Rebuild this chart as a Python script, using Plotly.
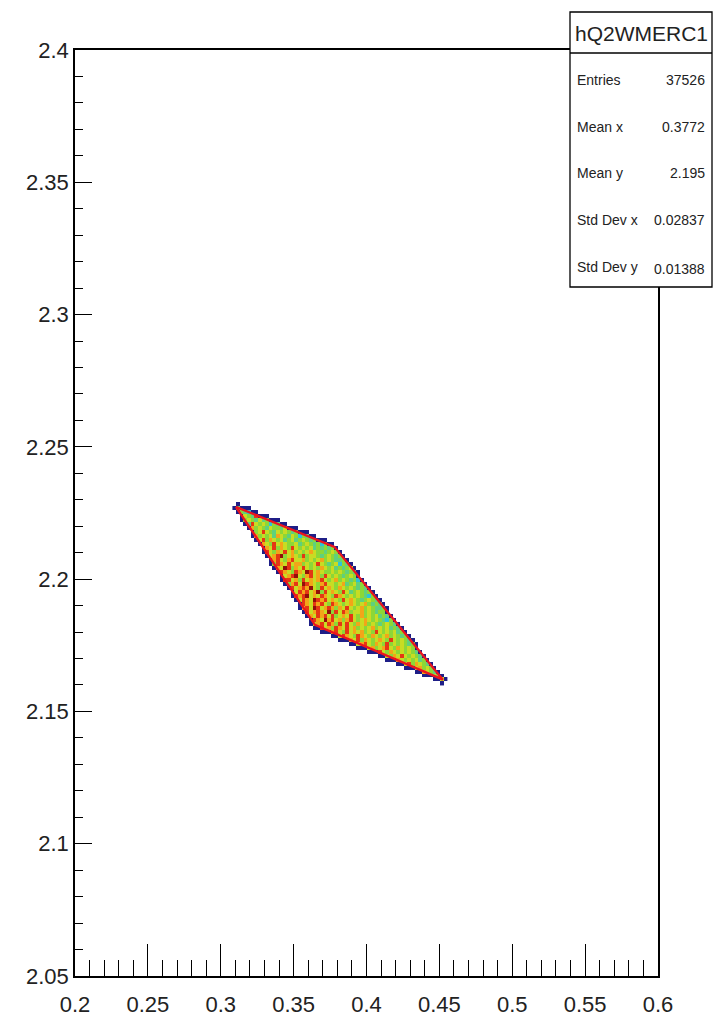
import numpy as np
import plotly.graph_objects as go

# ---------------- data ----------------
# histogram binning of the drawn patch (bin edges)
x_edge0, x_step, n_cols = 0.308, 0.0025, 59
y_edge0, y_step, n_rows = 2.1600, 0.0015, 47

# outline of the filled region (kinematic boundary)
outline_x = [0.3104, 0.3780, 0.4524, 0.3646, 0.3104]
outline_y = [2.2273, 2.2122, 2.1620, 2.1827, 2.2273]

# estimated colour level per bin (1 = dark blue ... 9 = dark red),
# rows counted from the top; each entry: (first column, levels)
level_rows = {
    2: (1, "4"),
    3: (2, "543"),
    4: (3, "6548"),
    5: (3, "5654645"),
    6: (4, "486565354"),
    7: (5, "7565465546"),
    8: (6, "568654656545"),
    9: (6, "756564765465354"),
    10: (7, "6857656456456545"),
    11: (8, "765867655645654535"),
    12: (8, "57685765865656454545"),
    13: (9, "86576867565676554565"),
    14: (10, "67895676585665456545"),
    15: (11, "78657866756567565445"),
    16: (11, "587686775656865456354"),
    17: (12, "769857686565765645456"),
    18: (13, "876587698676556565454"),
    19: (14, "67896578675865654565"),
    20: (14, "886758676786567565453"),
    21: (15, "578698765786656745645"),
    22: (16, "867879658676576565454"),
    23: (16, "7687867958676586456545"),
    24: (17, "8789676876587656565435"),
    25: (18, "6876987867658676545654"),
    26: (19, "8768786587656765675454"),
    27: (19, "78698678757686567565445"),
    28: (20, "86787695868756675654556"),
    29: (21, "7687868567686575656454"),
    30: (22, "8769786757865676565435"),
    31: (22, "67868758686576756545654"),
    32: (24, "8675876867565675656454"),
    33: (27, "78658676756586565645"),
    34: (29, "6876587657656756545"),
    35: (32, "76857656765865654"),
    36: (34, "6786576585656545"),
    37: (37, "67567865765654"),
    38: (39, "786576565654"),
    39: (42, "6576865654"),
    40: (45, "76565645"),
    41: (47, "6857654"),
    42: (50, "67565"),
    43: (52, "7654"),
    44: (55, "65"),
    45: (57, "6"),
}

x_tick_vals = [0.2, 0.25, 0.3, 0.35, 0.4, 0.45, 0.5, 0.55, 0.6]
x_tick_text = ["0.2", "0.25", "0.3", "0.35", "0.4", "0.45", "0.5", "0.55", "0.6"]
y_tick_vals = [2.05, 2.1, 2.15, 2.2, 2.25, 2.3, 2.35, 2.4]
y_tick_text = ["2.05", "2.1", "2.15", "2.2", "2.25", "2.3", "2.35", "2.4"]

hist_name = "hQ2WMERC1"
stat_labels = ["Entries", "Mean x", "Mean y", "Std Dev x", "Std Dev y"]
stat_values = ["37526", "0.3772", "2.195", "0.02837", "0.01388"]

# ---------------- build the binned matrix ----------------
xc = x_edge0 + x_step * (np.arange(n_cols) + 0.5)
yc_top = y_edge0 + y_step * (n_rows - np.arange(n_rows) - 0.5)  # row 0 = top


def inside(px, py, vx, vy):
    res = False
    for k in range(len(vx) - 1):
        x1, y1, x2, y2 = vx[k], vy[k], vx[k + 1], vy[k + 1]
        if (y1 > py) != (y2 > py):
            xi = x1 + (py - y1) * (x2 - x1) / (y2 - y1)
            if px < xi:
                res = not res
    return res


mask = np.zeros((n_rows, n_cols), dtype=bool)
for r in range(n_rows):
    for c in range(n_cols):
        mask[r, c] = inside(xc[c], yc_top[r], outline_x, outline_y)

z_top = np.full((n_rows, n_cols), np.nan)
keys = sorted(level_rows.keys())
for r in range(n_rows):
    for c in range(n_cols):
        if mask[r, c]:
            near = min(keys, key=lambda k: abs(k - r))
            start, s = level_rows[near]
            idx = min(max(c - start, 0), len(s) - 1)
            z_top[r, c] = int(s[idx])
        else:
            nb = False
            for dr, dc in ((1, 0), (-1, 0), (0, 1), (0, -1)):
                rr, cc = r + dr, c + dc
                if 0 <= rr < n_rows and 0 <= cc < n_cols and mask[rr, cc]:
                    nb = True
            if nb:
                z_top[r, c] = 1

z = z_top[::-1]
yc = yc_top[::-1]

levels_colors = [
    (30, 30, 135), (45, 80, 210), (45, 195, 215), (95, 208, 125),
    (140, 215, 55), (200, 220, 35), (242, 165, 25), (228, 55, 20), (145, 15, 10),
]
cs = []
nlev = len(levels_colors)
for k, col in enumerate(levels_colors):
    c = "rgb(%d,%d,%d)" % col
    cs.append([k / nlev, c])
    cs.append([(k + 1) / nlev, c])

fig = go.Figure()
fig.add_trace(go.Heatmap(
    x=xc, y=yc, z=z, zmin=0.5, zmax=9.5, colorscale=cs, showscale=False,
    hoverongaps=False,
))
fig.add_trace(go.Scatter(
    x=outline_x, y=outline_y, mode="lines",
    line=dict(color="rgb(235,20,30)", width=2.3), showlegend=False,
))

FONT = "Liberation Sans, Arial, Helvetica, sans-serif"
L, R, T, B = 75, 658, 50, 976
W, H = 715, 1020


def pxx(p):
    return (p - L) / (R - L)


def pxy(p):
    return (B - p) / (B - T)


fig.update_layout(
    width=W, height=H, autosize=False,
    margin=dict(l=L, r=W - R, t=T, b=H - B, pad=0),
    paper_bgcolor="white", plot_bgcolor="white",
    showlegend=False,
    font=dict(family=FONT, color="#222"),
    xaxis=dict(
        range=[0.2, 0.6], tickmode="array", tickvals=x_tick_vals, ticktext=x_tick_text,
        ticks="inside", ticklen=32, tickwidth=1.2, tickcolor="black",
        minor=dict(ticks="inside", dtick=0.01, tick0=0.2, ticklen=16,
                   tickwidth=1.2, tickcolor="black"),
        showline=True, linecolor="black", linewidth=1.5, mirror=True,
        showgrid=False, zeroline=False, ticklabelstandoff=8, automargin=False,
        tickfont=dict(size=22, family=FONT, color="#222"),
    ),
    yaxis=dict(
        range=[2.05, 2.4], tickmode="array", tickvals=y_tick_vals, ticktext=y_tick_text,
        ticks="inside", ticklen=17, tickwidth=1.2, tickcolor="black",
        minor=dict(ticks="inside", dtick=0.01, tick0=2.05, ticklen=8,
                   tickwidth=1.2, tickcolor="black"),
        showline=True, linecolor="black", linewidth=1.5, mirror=True,
        showgrid=False, zeroline=False, automargin=False,
        tickfont=dict(size=22, family=FONT, color="#222"),
    ),
)

# stats box
bx0, bx1, by0, by1, bsep = 570, 712, 12, 287, 53
fig.add_shape(type="rect", xref="paper", yref="paper",
              x0=pxx(bx0), x1=pxx(bx1), y0=pxy(by1), y1=pxy(by0),
              fillcolor="white", line=dict(color="black", width=1.3), layer="above")
fig.add_shape(type="line", xref="paper", yref="paper",
              x0=pxx(bx0), x1=pxx(bx1), y0=pxy(bsep), y1=pxy(bsep),
              line=dict(color="black", width=1.3), layer="above")
fig.add_annotation(xref="paper", yref="paper", x=pxx((bx0 + bx1) / 2), y=pxy(33),
                   text=hist_name, showarrow=False, xanchor="center", yanchor="middle",
                   font=dict(size=21, family=FONT, color="#222"))
row_y = [80, 127, 173, 220, 267]
for lab, val, ry in zip(stat_labels, stat_values, row_y):
    fig.add_annotation(xref="paper", yref="paper", x=pxx(575), y=pxy(ry),
                       text=lab, showarrow=False, xanchor="left", yanchor="middle",
                       font=dict(size=14, family=FONT, color="#222"))
    fig.add_annotation(xref="paper", yref="paper", x=pxx(707), y=pxy(ry + 2 if lab == "Std Dev y" else ry),
                       text=val, showarrow=False, xanchor="right", yanchor="middle",
                       font=dict(size=14, family=FONT, color="#222"))

fig.write_html("out.html", config={"displayModeBar": False},
               post_script="document.body.style.margin='0px';")
